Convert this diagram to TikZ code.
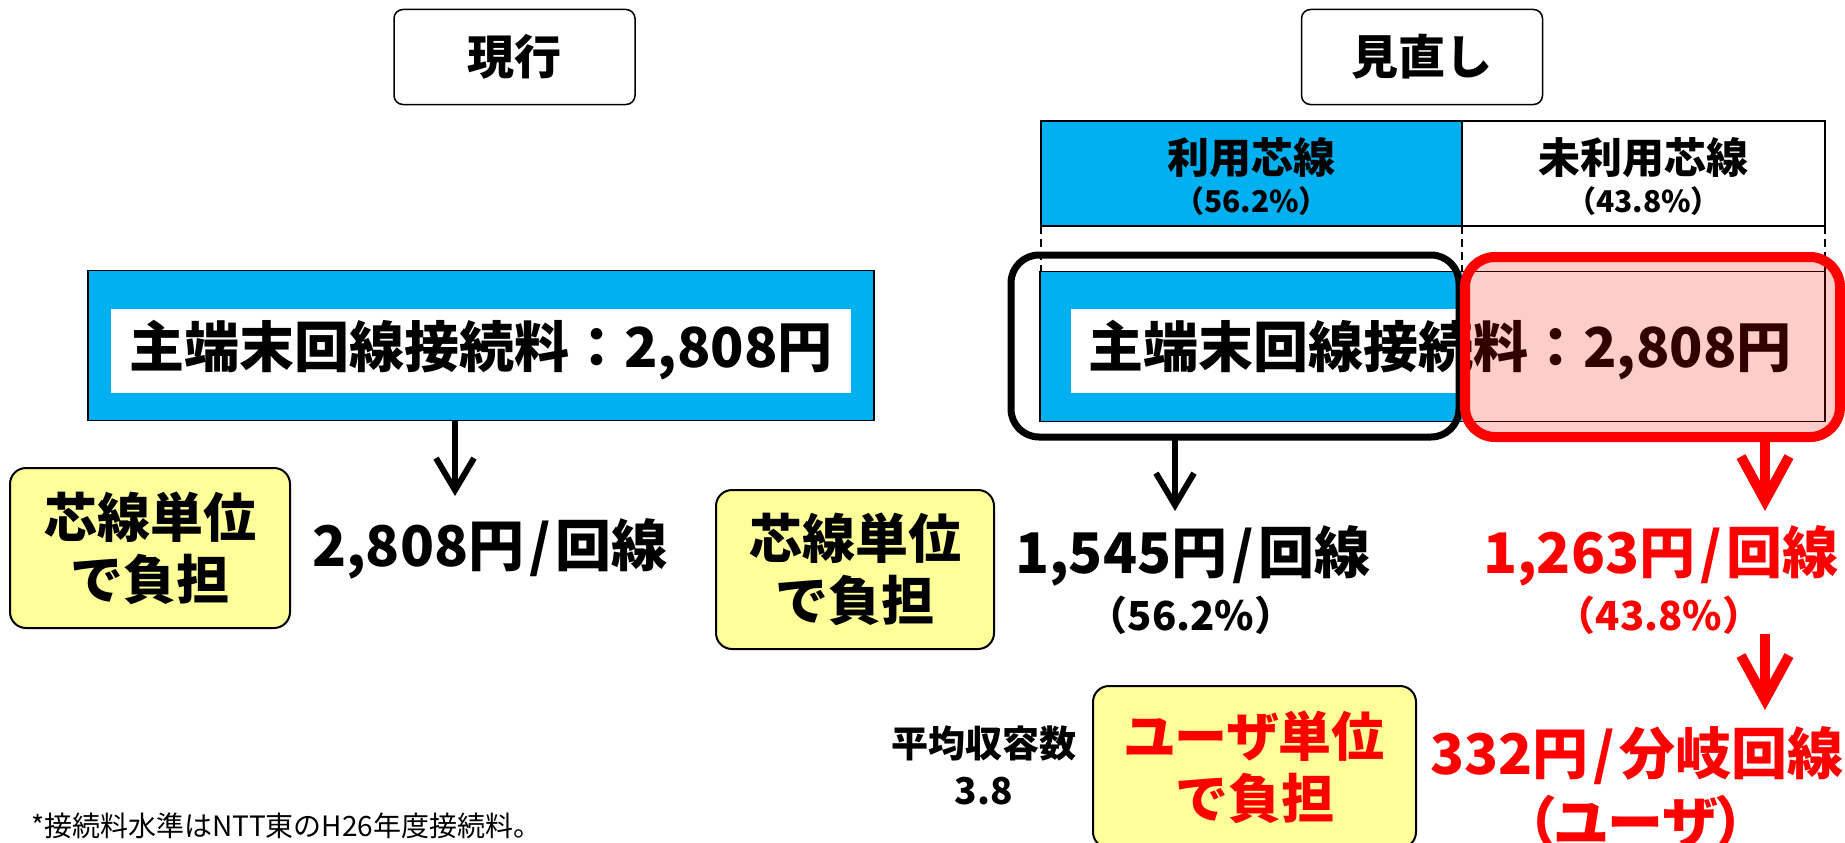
\documentclass[tikz,border=0pt]{standalone}
\usepackage{fontspec}
\setmainfont{Noto Sans CJK JP}
\usetikzlibrary{arrows.meta}
\definecolor{cblue}{HTML}{00B0F0}
\definecolor{cyellow}{HTML}{FFFF99}
\definecolor{cred}{HTML}{FF0000}
\newcommand\fs[2]{\fontsize{#1}{#2}\selectfont}
\newcommand\myslash{\hspace{5pt}/\hspace{5pt}}
\begin{document}
\begin{tikzpicture}[x=1pt,y=-1pt,
  every node/.style={inner sep=0pt, outer sep=0pt},
  titlebox/.style={draw=black, line width=1.5pt, fill=white, rounded corners=9pt,
    minimum width=241pt, minimum height=95pt, font=\fs{47}{47}\bfseries},
  hcell/.style={draw=black, line width=1.5pt, minimum height=105pt},
  bar/.style={draw=black, line width=1.5pt, minimum height=150pt},
  wbox/.style={fill=white, minimum width=740pt, minimum height=84pt},
  bartext/.style={font=\fs{55}{55}\bfseries},
  ybox/.style={draw=black, line width=2pt, fill=cyellow, rounded corners=16pt},
  ytext/.style={align=center, font=\fs{53}{62}\bfseries},
  big/.style={font=\fs{56}{56}\bfseries},
  pct/.style={font=\fs{40}{40}\bfseries},
  dsh/.style={draw=black, line width=1.5pt, dash pattern=on 8pt off 5pt},
  arr/.style={draw=black, line width=6pt, -{Straight Barb[length=32pt,width=38pt]}},
  rarr/.style={draw=cred, line width=10pt, -{Straight Barb[length=44pt,width=48pt]}}
]
\useasboundingbox (0,0) rectangle (1845,843);

% titles
\node[titlebox] (cur) at (514.5,57) {現行};
\node[titlebox] (rev) at (1422,57) {見直し};

% header cells
\node[hcell, fill=cblue, minimum width=421pt] (hc1) at (1251.5,173.5) {};
\node[hcell, fill=white, minimum width=363pt] (hc2) at (1643.5,173.5) {};
\node[font=\fs{42}{42}\bfseries] (hc1t) at (1251.5,158) {利用芯線};
\node[font=\fs{30}{30}\bfseries] (hc1p) at (1251.5,201) {（56.2\%）};
\node[font=\fs{42}{42}\bfseries] (hc2t) at (1643.5,158) {未利用芯線};
\node[font=\fs{30}{30}\bfseries] (hc2p) at (1643.5,201) {（43.8\%）};

% left bar
\node[bar, fill=cblue, minimum width=786pt] (lbar) at (481,345.5) {};
\node[wbox] (lwb) at (481,351) {};
\node[bartext] (ltext) at (481,350) {主端末回線接続料：2,808円};

% right bar
\node[fill=cblue, minimum width=422pt, minimum height=150pt] (rblue) at (1251,346.5) {};
\node[bar, minimum width=785pt] (rbar) at (1432.5,346.5) {};
\node[wbox] (rwb) at (1441,351) {};
\node[bartext] (rtext) at (1440,350) {主端末回線接続料：2,808円};

% dashed guides
\draw[dsh] (hc1.south west) -- (hc1.south west |- rbar.north);
\draw[dsh] (hc1.south east) -- (hc1.south east |- rbar.north);
\draw[dsh] (hc2.south east) -- (hc2.south east |- rbar.north);

% highlight frames
\node[draw=black, line width=7pt, rounded corners=28pt, minimum width=448pt, minimum height=182pt] (brect) at (1235,346) {};
\node[draw=cred, line width=10pt, fill=cred, fill opacity=0.2, draw opacity=1, rounded corners=30pt,
  minimum width=375pt, minimum height=180pt] (rrect) at (1652.5,347) {};

% arrows
\coordinate (a1) at (455,496);
\draw[arr] (lbar.south -| a1) -- (a1);
\coordinate (a2) at (1175,511);
\draw[arr] (brect.south -| a2) -- (a2);
\coordinate (a3) at (1765,511);
\draw[rarr] (rrect.south -| a3) -- (a3);

% yellow boxes
\node[ybox, minimum width=280pt, minimum height=160pt] (y1) at (150,548) {};
\node[ytext] (y1t) at (y1) {芯線単位\\で負担};
\node[ybox, minimum width=278pt, minimum height=159pt] (y2) at (855,569.5) {};
\node[ytext] (y2t) at (y2) {芯線単位\\で負担};
\node[ybox, minimum width=323pt, minimum height=162pt] (y3) at (1254.5,767) {};
\node[ytext, text=cred] (y3t) at (y3) {\addfontfeature{RawFeature=+palt}ユーザ単位\\で負担};

% amounts
\node[big] (t1) at (490,549) {2,808円\myslash 回線};
\node[big] (t2) at (1193,556) {1,545円\myslash 回線};
\node[pct] (t2p) at (1191,615) {（56.2\%）};
\node[big, text=cred] (t3) at (1661,556) {1,263円\myslash 回線};
\node[pct, text=cred] (t3p) at (1659,615) {（43.8\%）};
\coordinate (a4) at (1765,710);
\draw[rarr] (t3p.south -| a4) -- (a4);
\node[big, text=cred] (t4) at (1637,756) {332円\myslash 分岐回線};
\node[big, text=cred] (t4p) at (1636,822) {\addfontfeature{RawFeature=+palt}（ユーザ）};

\node[font=\fs{37}{47}\bfseries, align=center] (avg) at (984,765) {平均収容数\\3.8};

\node[anchor=base west, font=\fs{28}{28}] (fn) at (31,836) {*接続料水準はNTT東のH26年度接続料。};
\end{tikzpicture}
\end{document}
